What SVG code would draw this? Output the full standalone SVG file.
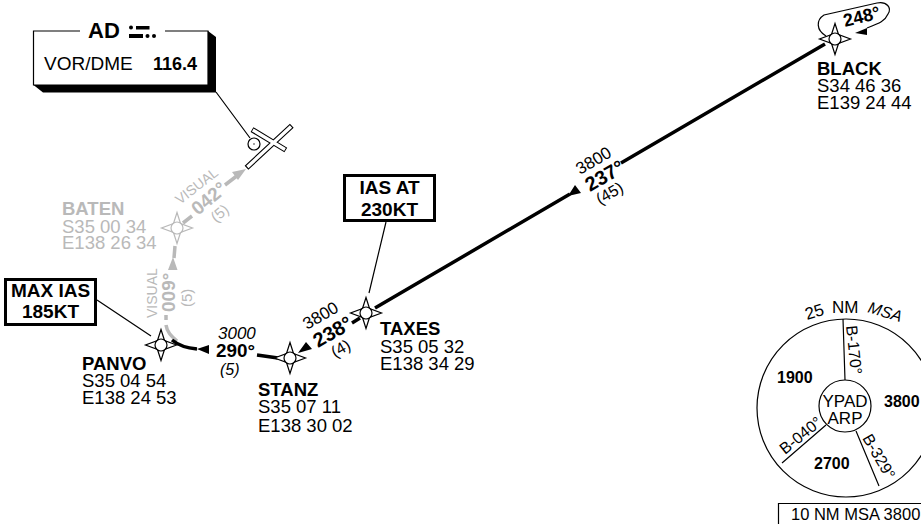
<svg xmlns="http://www.w3.org/2000/svg" width="921" height="524" viewBox="0 0 921 524">
<style>
text{font-family:"Liberation Sans",Arial,sans-serif;fill:#000}
.n{font-size:18.500px}
.b{font-weight:bold}
.g{fill:#b9b9b9}
.i{font-style:italic}
.leg{fill:none;stroke:#000;stroke-width:3.5}
.gleg{fill:none;stroke:#b9b9b9;stroke-width:3.5}
.thin{fill:none;stroke:#000;stroke-width:1.2}
.box{fill:#fff;stroke:#000;stroke-width:3}
.lb{font-size:19px;font-weight:bold;text-anchor:middle}
.ms{font-size:16px}
</style>
<defs>
<g id="wp"><path d="M0-15.500 3.500-4.500 15.500 0 3.500 4.500 0 15.500-3.500 4.500-15.500 0-3.500-4.500Z" fill="#fff" stroke="#000" stroke-width="1.200"/><circle r="6" fill="#fff" stroke="#000" stroke-width="1.200"/></g>
<g id="wpg"><path d="M0-15.500 3.500-4.500 15.500 0 3.500 4.500 0 15.500-3.500 4.500-15.500 0-3.500-4.500Z" fill="#fff" stroke="#b9b9b9" stroke-width="1.200"/><circle r="6" fill="#fff" stroke="#b9b9b9" stroke-width="1.200"/></g>
</defs>
<g id="connectors">
<path class="gleg" d="M166 315V320M166 325C167 332 171 336 177 341M175 246 174 258M183 223 192 216M225 185 238 175"/>
<path fill="#b9b9b9" d="M173 257 168 270 177.500 270ZM246 169 232 172 238 180Z"/>
<path class="leg" d="M375 308 570 194M621 163 825 44M352 323 360 318M172 340C178 345 186 348 197 349M257 355 278 358"/>
<path d="M568 196 581 193 575 185ZM298 353 312 349 306 342ZM197 349 209 345 209 354Z"/>
<path class="thin" d="M216 92 250 138M97 300 151 336M386 222 369 293"/>
<path fill="none" stroke="#000" stroke-width="1.200" d="M826 36C816 30 816 20 824 15L877 3C887 1 892 8 888 14 885 21 880 23 867 28"/>
<path d="M855 33 867 28 867 35Z"/>
</g>
<g id="ad-box">
<path d="M33.500 85 43 92.500H216V37L208 31V85Z" fill="#000"/>
<path d="M80 31H33.500V85H208V31H165" fill="#fff" stroke="#000" stroke-width="1.200"/>
<path d="M80 25H165V38H80Z" fill="#fff"/>
<text x="88" y="38" class="b" font-size="22">AD</text>
<path d="M136 26h13.500v3.500H136ZM129 34h14v4H129Z"/>
<circle cx="131" cy="27.500" r="2"/><circle cx="147.500" cy="36" r="2"/><circle cx="154" cy="36" r="2"/>
<text x="44" y="70" font-size="19">VOR/DME</text>
<text x="153" y="70" class="b" font-size="18">116.4</text>
</g>
<g id="airport">
<path fill="none" stroke="#000" stroke-width="5.500" d="M246.500 167.800 291.800 125.800M252 129.600 285.800 150"/>
<path fill="none" stroke="#fff" stroke-width="3.300" d="M247.400 167 291 126.500M252.800 130 285 149.500"/>
<circle cx="254" cy="144" r="6" fill="#fff" stroke="#000" stroke-width="1.200"/>
<circle cx="254" cy="144" r=".7"/>
</g>
<g id="black"><use href="#wp" x="835" y="39"/><text x="817" y="75" class="n b">BLACK</text><text x="817" y="92" class="n">S34 46 36</text><text x="817" y="109" class="n">E139 24 44</text>
<text transform="translate(845 27) rotate(-14)" class="b" font-size="18">248°</text></g>
<g id="taxes"><use href="#wp" x="366" y="313"/><text x="380" y="335" class="n b">TAXES</text><text x="380" y="353" class="n">S35 05 32</text><text x="380" y="370" class="n">E138 34 29</text></g>
<g id="stanz"><use href="#wp" x="290" y="358"/><text x="258" y="396" class="n b">STANZ</text><text x="258" y="413" class="n">S35 07 11</text><text x="258" y="432" class="n">E138 30 02</text></g>
<g id="panvo"><use href="#wp" x="161" y="345"/><text x="82" y="370" class="n b">PANVO</text><text x="82" y="387" class="n">S35 04 54</text><text x="82" y="404" class="n">E138 24 53</text></g>
<g id="baten"><use href="#wpg" x="177" y="228"/><text x="62" y="215" class="n b g">BATEN</text><text x="62" y="233" class="n g">S35 00 34</text><text x="62" y="249" class="n g">E138 26 34</text></g>
<g id="labels">
<text transform="translate(580 175) rotate(-30)" font-size="17">3800</text>
<text transform="translate(590 192) rotate(-30)" class="b" font-size="20">237°</text>
<text transform="translate(600 205) rotate(-30)" font-size="16">(45)</text>
<text transform="translate(307 330) rotate(-30)" font-size="17">3800</text>
<text transform="translate(318 348) rotate(-30)" class="b" font-size="20">238°</text>
<text transform="translate(335 358) rotate(-30)" font-size="16">(4)</text>
<text x="218" y="339" class="i" font-size="17">3000</text>
<text x="216" y="357" class="b" font-size="19" textLength="39" lengthAdjust="spacingAndGlyphs">290°</text>
<text x="220" y="375" class="i" font-size="16">(5)</text>
<text transform="translate(157 318) rotate(-90)" class="g" font-size="14">VISUAL</text>
<text transform="translate(175 312) rotate(-90)" class="b g" font-size="19">009°</text>
<text transform="translate(192 307) rotate(-90)" class="g" font-size="15">(5)</text>
<text transform="translate(180 205) rotate(-38)" class="g" font-size="14">VISUAL</text>
<text transform="translate(198 216) rotate(-40)" class="b g" font-size="19">042°</text>
<text transform="translate(216 223) rotate(-40)" class="g" font-size="15">(5)</text>
</g>
<g id="max-ias"><rect class="box" x="5.500" y="279.500" width="90" height="45"/><text x="50.500" y="297" class="lb">MAX IAS</text><text x="50.500" y="318" class="lb">185KT</text></g>
<g id="ias-at"><rect class="box" x="344.500" y="175.500" width="90" height="45"/><text x="389.500" y="194" class="lb">IAS AT</text><text x="389.500" y="216" class="lb">230KT</text></g>
<g id="msa">
<circle cx="846" cy="408" r="89" fill="none" stroke="#000" stroke-width="1.200"/>
<circle cx="845" cy="406" r="26" fill="#fff" stroke="#000" stroke-width="1.200"/>
<path class="thin" d="M843 319 845 380M782 463 826 425M856 431 879 486"/>
<text transform="translate(807 320) rotate(-17)" font-size="17">25</text>
<text x="832" y="313" font-size="17">NM</text>
<text transform="translate(867 312) rotate(17)" class="i ms">MSA</text>
<text transform="translate(846 326) rotate(84)" class="ms">B-170°</text>
<text transform="translate(785 455) rotate(-39)" class="ms">B-040°</text>
<text transform="translate(862 438) rotate(60)" class="ms">B-329°</text>
<text x="845" y="407" text-anchor="middle" font-size="17">YPAD</text>
<text x="845" y="424" text-anchor="middle" font-size="17">ARP</text>
<text x="777" y="383" class="b ms">1900</text>
<text x="884" y="407" class="b ms">3800</text>
<text x="814" y="469" class="b ms">2700</text>
<path class="thin" d="M778.500 524V503.500H921"/>
<text x="791" y="520" font-size="16.500">10 NM MSA 3800</text>
</g>
</svg>
